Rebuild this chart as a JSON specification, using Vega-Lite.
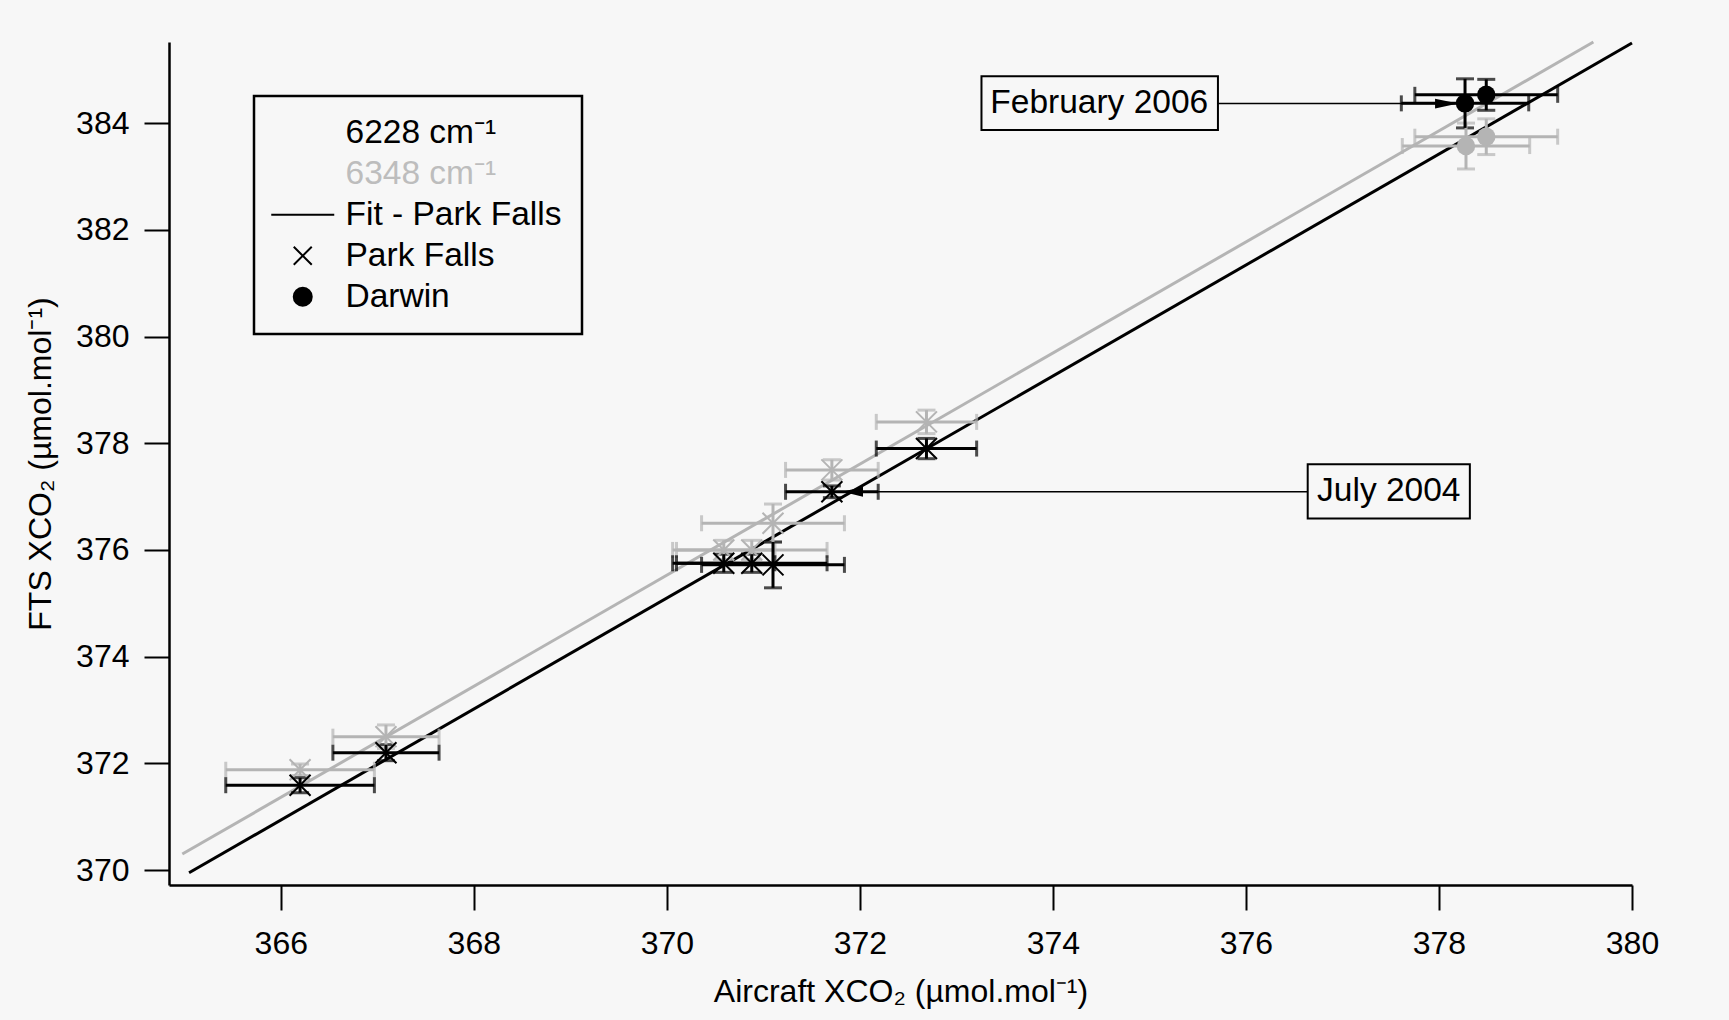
{
  "$schema": "https://vega.github.io/schema/vega-lite/v6.json",
  "autosize": {"type": "none"},
  "width": 1463,
  "height": 843,
  "padding": {"left": 169, "top": 42, "right": 97, "bottom": 135},
  "background": "#f7f7f7",
  "config": {
    "view": {"stroke": null},
    "font": "Liberation Sans",
    "axis": {
      "domainColor": "black", "domainWidth": 2.5, "tickColor": "black", "tickWidth": 2, "tickSize": 25,
      "labelFontSize": 32, "labelColor": "black", "labelFont": "Liberation Sans", "labelFlush": false,
      "titleFont": "Liberation Sans", "titleFontSize": 32, "titleFontWeight": "normal", "titleColor": "black",
      "grid": false, "format": "d"
    },
    "axisX": {"labelPadding": 18, "titlePadding": 17},
    "axisY": {"labelPadding": 15, "titlePadding": 18},
    "legend": {"strokeWidth": 2.5}
  },
  "datasets": {
    "pts": [
      {"site": "Park Falls", "band": "6348", "x": 366.20, "xlo": 365.43, "xhi": 366.97, "y": 371.88, "ylo": 371.77, "yhi": 371.99},
      {"site": "Park Falls", "band": "6348", "x": 367.09, "xlo": 366.54, "xhi": 367.64, "y": 372.50, "ylo": 372.28, "yhi": 372.72},
      {"site": "Park Falls", "band": "6348", "x": 370.59, "xlo": 370.06, "xhi": 371.12, "y": 376.00, "ylo": 375.82, "yhi": 376.18},
      {"site": "Park Falls", "band": "6348", "x": 370.88, "xlo": 370.10, "xhi": 371.66, "y": 376.00, "ylo": 375.82, "yhi": 376.18},
      {"site": "Park Falls", "band": "6348", "x": 371.10, "xlo": 370.36, "xhi": 371.84, "y": 376.50, "ylo": 376.14, "yhi": 376.86},
      {"site": "Park Falls", "band": "6348", "x": 371.71, "xlo": 371.23, "xhi": 372.19, "y": 377.50, "ylo": 377.31, "yhi": 377.69},
      {"site": "Park Falls", "band": "6348", "x": 372.69, "xlo": 372.17, "xhi": 373.21, "y": 378.40, "ylo": 378.18, "yhi": 378.62},
      {"site": "Darwin", "band": "6348", "x": 378.28, "xlo": 377.62, "xhi": 378.94, "y": 383.57, "ylo": 383.14, "yhi": 384.00},
      {"site": "Darwin", "band": "6348", "x": 378.49, "xlo": 377.75, "xhi": 379.23, "y": 383.745, "ylo": 383.41, "yhi": 384.08},
      {"site": "Park Falls", "band": "6228", "x": 366.20, "xlo": 365.43, "xhi": 366.97, "y": 371.59, "ylo": 371.45, "yhi": 371.73},
      {"site": "Park Falls", "band": "6228", "x": 367.09, "xlo": 366.54, "xhi": 367.64, "y": 372.20, "ylo": 372.05, "yhi": 372.35},
      {"site": "Park Falls", "band": "6228", "x": 370.59, "xlo": 370.06, "xhi": 371.12, "y": 375.75, "ylo": 375.58, "yhi": 375.92},
      {"site": "Park Falls", "band": "6228", "x": 370.88, "xlo": 370.10, "xhi": 371.66, "y": 375.75, "ylo": 375.58, "yhi": 375.92},
      {"site": "Park Falls", "band": "6228", "x": 371.10, "xlo": 370.36, "xhi": 371.84, "y": 375.72, "ylo": 375.29, "yhi": 376.15},
      {"site": "Park Falls", "band": "6228", "x": 371.71, "xlo": 371.23, "xhi": 372.19, "y": 377.09, "ylo": 376.98, "yhi": 377.20},
      {"site": "Park Falls", "band": "6228", "x": 372.69, "xlo": 372.17, "xhi": 373.21, "y": 377.90, "ylo": 377.71, "yhi": 378.09},
      {"site": "Darwin", "band": "6228", "x": 378.27, "xlo": 377.61, "xhi": 378.93, "y": 384.37, "ylo": 383.91, "yhi": 384.83},
      {"site": "Darwin", "band": "6228", "x": 378.49, "xlo": 377.75, "xhi": 379.23, "y": 384.53, "ylo": 384.24, "yhi": 384.82}
    ],
    "fit": [
      {"band": "6348", "x": 364.98, "y": 370.30},
      {"band": "6348", "x": 379.60, "y": 385.52},
      {"band": "6228", "x": 365.05, "y": 369.95},
      {"band": "6228", "x": 380.00, "y": 385.50}
    ],
    "notes": [
      {"label": "February 2006", "tx": 374.48, "ty": 384.37, "bx1": 373.26, "bx2": 375.71, "by1": 383.87, "by2": 384.88, "ax1": 375.71, "ax2": 378.20, "ay": 384.365, "tipx": 378.20, "dir": "right"},
      {"label": "July 2004", "tx": 377.48, "ty": 377.10, "bx1": 376.64, "bx2": 378.32, "by1": 376.59, "by2": 377.605, "ax1": 371.82, "ax2": 376.64, "ay": 377.09, "tipx": 371.82, "dir": "left"}
    ]
  },
  "layer": [
    {
      "data": {"name": "fit"},
      "mark": {"type": "line", "strokeWidth": 3},
      "encoding": {
        "x": {"field": "x", "type": "quantitative", "title": "Aircraft XCO₂ (µmol.mol⁻¹)", "scale": {"domain": [364.842, 380], "nice": false, "zero": false}, "axis": {"values": [366, 368, 370, 372, 374, 376, 378, 380]}},
        "y": {"field": "y", "type": "quantitative", "title": "FTS XCO₂ (µmol.mol⁻¹)", "scale": {"domain": [369.72, 385.52], "nice": false, "zero": false}, "axis": {"values": [370, 372, 374, 376, 378, 380, 382, 384]}},
        "color": {"field": "band", "type": "nominal", "scale": {"domain": ["6228", "6348"], "range": ["black", "#b4b4b4"]}, "legend": null}
      }
    },
    {
      "data": {"name": "pts"},
      "mark": {"type": "errorbar", "rule": {"strokeWidth": 3}, "ticks": {"size": 16, "thickness": 3}},
      "encoding": {
        "x": {"field": "xlo", "type": "quantitative", "title": "Aircraft XCO₂ (µmol.mol⁻¹)"},
        "x2": {"field": "xhi"},
        "y": {"field": "y", "type": "quantitative", "title": "FTS XCO₂ (µmol.mol⁻¹)"},
        "color": {"field": "band", "type": "nominal", "legend": null}
      }
    },
    {
      "data": {"name": "pts"},
      "mark": {"type": "errorbar", "rule": {"strokeWidth": 3}, "ticks": {"size": 18, "thickness": 3}},
      "encoding": {
        "x": {"field": "x", "type": "quantitative", "title": "Aircraft XCO₂ (µmol.mol⁻¹)"},
        "y": {"field": "ylo", "type": "quantitative", "title": "FTS XCO₂ (µmol.mol⁻¹)"},
        "y2": {"field": "yhi"},
        "color": {"field": "band", "type": "nominal", "legend": null}
      }
    },
    {
      "data": {"name": "pts"},
      "transform": [{"filter": "datum.site === 'Park Falls'"}],
      "mark": {"type": "point", "shape": "M-1,-1L1,1M-1,1L1,-1", "filled": false, "strokeWidth": 2, "size": 440, "opacity": 1},
      "encoding": {
        "x": {"field": "x", "type": "quantitative", "title": "Aircraft XCO₂ (µmol.mol⁻¹)"},
        "y": {"field": "y", "type": "quantitative", "title": "FTS XCO₂ (µmol.mol⁻¹)"},
        "stroke": {"field": "band", "type": "nominal", "scale": {"domain": ["6228", "6348"], "range": ["black", "#b4b4b4"]}, "legend": null}
      }
    },
    {
      "data": {"name": "pts"},
      "transform": [{"filter": "datum.site === 'Darwin'"}],
      "mark": {"type": "point", "filled": true, "size": 340, "opacity": 1},
      "encoding": {
        "x": {"field": "x", "type": "quantitative", "title": "Aircraft XCO₂ (µmol.mol⁻¹)"},
        "y": {"field": "y", "type": "quantitative", "title": "FTS XCO₂ (µmol.mol⁻¹)"},
        "fill": {"field": "band", "type": "nominal", "scale": {"domain": ["6228", "6348"], "range": ["black", "#b4b4b4"]}, "legend": null},
        "shape": {
          "field": "site", "type": "nominal",
          "scale": {
            "domain": ["6228 cm⁻¹", "6348 cm⁻¹", "Fit - Park Falls", "Park Falls", "Darwin"],
            "range": ["M0,0", "M0,0", "M-3.5,0H3.5", "M-1,-1L1,1M-1,1L1,-1", "circle"]
          },
          "legend": {
            "orient": "none", "legendX": 85, "legendY": 54, "title": null,
            "strokeColor": "black", "fillColor": "#f7f7f7", "padding": 20,
            "labelFontSize": 33.5, "labelFont": "Liberation Sans", "labelLimit": 400,
            "labelColor": {"expr": "datum.label === '6348 cm⁻¹' ? '#bdbdbd' : 'black'"},
            "symbolSize": 324, "symbolStrokeWidth": 2, "symbolStrokeColor": "black",
            "symbolFillColor": {"expr": "datum.label === 'Darwin' ? 'black' : 'transparent'"},
            "symbolOpacity": 1,
            "rowPadding": 6, "symbolOffset": 12, "labelOffset": 26
          }
        }
      }
    },
    {
      "data": {"name": "notes"},
      "mark": {"type": "rect", "fill": "#f7f7f7", "stroke": "black", "strokeWidth": 2},
      "encoding": {
        "x": {"field": "bx1", "type": "quantitative", "title": "Aircraft XCO₂ (µmol.mol⁻¹)"},
        "x2": {"field": "bx2"},
        "y": {"field": "by1", "type": "quantitative", "title": "FTS XCO₂ (µmol.mol⁻¹)"},
        "y2": {"field": "by2"}
      }
    },
    {
      "data": {"name": "notes"},
      "mark": {"type": "rule", "color": "black", "strokeWidth": 1.5},
      "encoding": {
        "x": {"field": "ax1", "type": "quantitative", "title": "Aircraft XCO₂ (µmol.mol⁻¹)"},
        "x2": {"field": "ax2"},
        "y": {"field": "ay", "type": "quantitative", "title": "FTS XCO₂ (µmol.mol⁻¹)"}
      }
    },
    {
      "data": {"name": "notes"},
      "mark": {"type": "text", "fontSize": 33.5, "font": "Liberation Sans", "color": "black", "align": "center", "baseline": "middle"},
      "encoding": {
        "x": {"field": "tx", "type": "quantitative", "title": "Aircraft XCO₂ (µmol.mol⁻¹)"},
        "y": {"field": "ty", "type": "quantitative", "title": "FTS XCO₂ (µmol.mol⁻¹)"},
        "text": {"field": "label"}
      }
    },
    {
      "data": {"name": "notes"},
      "transform": [{"filter": "datum.dir === 'right'"}],
      "mark": {"type": "point", "shape": "M0,0L-2,-0.42L-2,0.42Z", "filled": true, "color": "black", "size": 540, "opacity": 1},
      "encoding": {
        "x": {"field": "tipx", "type": "quantitative", "title": "Aircraft XCO₂ (µmol.mol⁻¹)"},
        "y": {"field": "ay", "type": "quantitative", "title": "FTS XCO₂ (µmol.mol⁻¹)"}
      }
    },
    {
      "data": {"name": "notes"},
      "transform": [{"filter": "datum.dir === 'left'"}],
      "mark": {"type": "point", "shape": "M0,0L2,-0.48L2,0.48Z", "filled": true, "color": "black", "size": 420, "opacity": 1},
      "encoding": {
        "x": {"field": "tipx", "type": "quantitative", "title": "Aircraft XCO₂ (µmol.mol⁻¹)"},
        "y": {"field": "ay", "type": "quantitative", "title": "FTS XCO₂ (µmol.mol⁻¹)"}
      }
    }
  ]
}
